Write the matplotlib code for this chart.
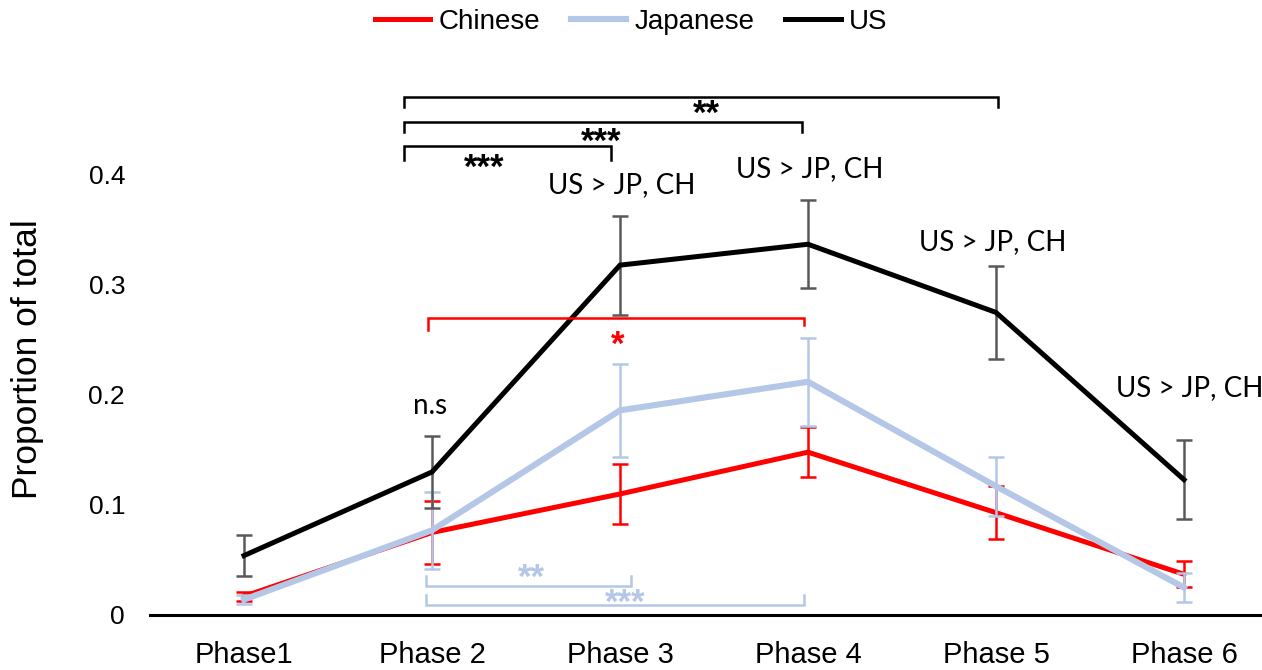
import matplotlib
matplotlib.use("Agg")
import matplotlib.pyplot as plt
import numpy as np

phases = ["Phase1", "Phase 2", "Phase 3", "Phase 4", "Phase 5", "Phase 6"]

chinese = [0.017, 0.075, 0.110, 0.148, 0.093, 0.037]
chinese_err = [0.004, 0.029, 0.027, 0.023, 0.024, 0.012]
japanese = [0.014, 0.077, 0.186, 0.212, 0.117, 0.025]
japanese_err = [0.004, 0.035, 0.042, 0.040, 0.027, 0.013]
us = [0.054, 0.130, 0.318, 0.337, 0.275, 0.123]
us_err = [0.019, 0.033, 0.045, 0.040, 0.042, 0.036]

RED = "#ff0000"
BLUE = "#b4c7e7"
BLACK = "#000000"
GREY = "#595959"

fig = plt.figure(figsize=(12.62, 6.70), dpi=100)
# axis runs past the right edge of the canvas
ax = fig.add_axes([150 / 1262, 55 / 670, 1128 / 1262, 560 / 670])
x = np.arange(len(phases))

series = [
    ("Chinese", chinese, chinese_err, RED, RED, 3.6),
    ("Japanese", japanese, japanese_err, BLUE, BLUE, 4.4),
    ("US", us, us_err, BLACK, GREY, 3.6),
]
handles = []
for i, (name, vals, err, col, ecol, lw) in enumerate(series):
    ax.errorbar(x, vals, yerr=err, fmt="none", ecolor=ecol, elinewidth=1.8,
                capsize=6, capthick=1.8, zorder=2 + i)
    ln, = ax.plot(x, vals, color=col, lw=lw, label=name, zorder=3 + i,
                  solid_joinstyle="miter")
    handles.append(ln)

ax.set_xlim(-0.5, len(phases) - 0.5)
ax.set_ylim(0, 0.509)
ax.set_yticks([0, 0.1, 0.2, 0.3, 0.4])
ax.set_yticklabels(["0", "0.1", "0.2", "0.3", "0.4"])
ax.set_xticks(x)
ax.set_xticklabels(phases)
ax.tick_params(axis="x", length=0, labelsize=21, pad=19)
ax.tick_params(axis="y", length=0, labelsize=19, pad=18)
for lab in ax.get_xticklabels() + ax.get_yticklabels():
    lab.set_fontfamily("Liberation Sans")
for s in ["top", "right", "left"]:
    ax.spines[s].set_visible(False)
ax.spines["bottom"].set_linewidth(2.2)
ax.set_ylabel("Proportion of total", fontsize=25.5, family="Liberation Sans")
ax.yaxis.set_label_coords(-0.094, 0.457)


def bracket(x0, x1, y, h0, h1, color, lw=1.8):
    ax.plot([x0, x0, x1, x1], [y + h0, y, y, y + h1], color=color, lw=lw,
            clip_on=False, solid_joinstyle="miter", zorder=6)


def stars(xc, yc, s, color):
    ax.text(xc, yc, s, color=color, ha="center", va="center", fontsize=25,
            fontweight="bold", family="Liberation Sans", zorder=7)


# phase comparisons for US (top)
bracket(0.85, 4.01, 0.471, -0.009, -0.009, BLACK)
stars(2.46, 0.455, "**", BLACK)
bracket(0.85, 2.97, 0.448, -0.009, -0.009, BLACK)
stars(1.90, 0.430, "***", BLACK)
bracket(0.85, 1.95, 0.426, -0.012, -0.012, BLACK)
stars(1.28, 0.406, "***", BLACK)

# phase comparison for Chinese
bracket(0.98, 2.98, 0.270, -0.011, -0.006, RED)
stars(1.99, 0.245, "*", RED)

# phase comparisons for Japanese (bottom)
bracket(0.97, 2.06, 0.0264, 0.009, 0.009, BLUE)
stars(1.53, 0.033, "**", BLUE)
bracket(0.97, 2.98, 0.009, 0.009, 0.009, BLUE)
stars(2.03, 0.011, "***", BLUE)

# between-group labels
for xc, yc in [(2.01, 0.391), (3.01, 0.405), (3.98, 0.339), (5.03, 0.206)]:
    ax.text(xc, yc, "US > JP, CH", ha="center", va="center", fontsize=20,
            family="Lato", clip_on=False)
ax.text(0.99, 0.190, "n.s", ha="center", va="center", fontsize=20, family="Lato")

fig.legend(handles=handles, loc="center", bbox_to_anchor=(0.5, 1 - 22 / 670),
           ncol=3, frameon=False, prop={"family": "Liberation Sans", "size": 20},
           handlelength=2.0, handletextpad=0.3, columnspacing=1.1)

fig.savefig("out.png", dpi=100)
